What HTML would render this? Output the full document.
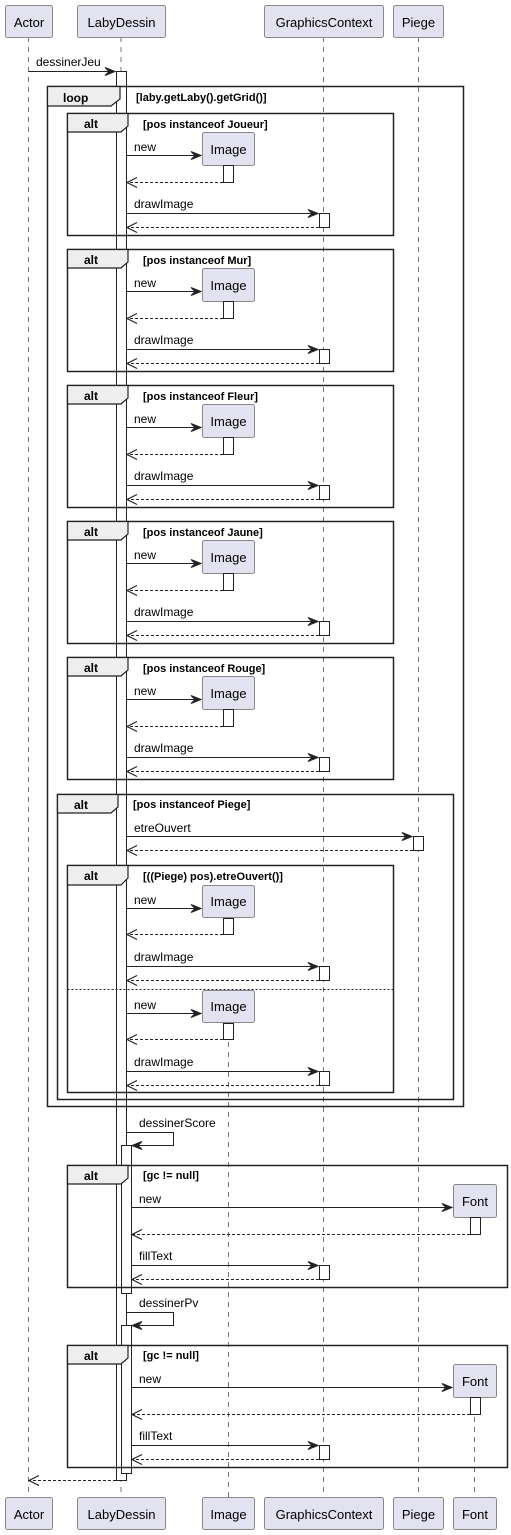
<!DOCTYPE html>
<html><head><meta charset="utf-8"><style>
html,body{margin:0;padding:0;background:#fff}
svg{display:block}
text{font-family:"Liberation Sans",sans-serif}
.p{font-size:13px;fill:#000}
.m{font-size:12px;fill:#000}
.b{font-size:11px;font-weight:bold;fill:#000}
.kw{font-size:12px;font-weight:bold;fill:#000}
</style></head><body>
<svg width="511" height="1535" viewBox="0 0 511 1535" xmlns="http://www.w3.org/2000/svg">
<defs>
<g id="ah"><polygon points="0,0 -10,-4 -6,0 -10,4" fill="#222" stroke="#222" stroke-width="1"/></g>
<g id="rh"><polyline points="10,-5 0,0 10,5" fill="none" stroke="#222" stroke-width="1.2"/></g>
</defs>
<!-- lifelines -->
<g stroke="#555" stroke-width="0.8" stroke-dasharray="5,5">
<line x1="28.5" y1="37" x2="28.5" y2="1497"/>
<line x1="121" y1="37" x2="121" y2="1497"/>
<line x1="228.5" y1="1022" x2="228.5" y2="1497"/>
<line x1="323.5" y1="37" x2="323.5" y2="1497"/>
<line x1="418.5" y1="37" x2="418.5" y2="1497"/>
<line x1="474.5" y1="1397" x2="474.5" y2="1497"/>
</g>
<!-- participants -->
<g fill="#e2e2f0" stroke="#888" stroke-width="1">
<rect x="5.5" y="5.5" width="47" height="32" rx="2"/>
<rect x="77.5" y="5.5" width="88" height="32" rx="2"/>
<rect x="264.5" y="5.5" width="119" height="32" rx="2"/>
<rect x="393.5" y="5.5" width="50" height="32" rx="2"/>
<rect x="5.5" y="1497.5" width="47" height="32" rx="2"/>
<rect x="77.5" y="1497.5" width="88" height="32" rx="2"/>
<rect x="202.5" y="1497.5" width="52" height="32" rx="2"/>
<rect x="264.5" y="1497.5" width="119" height="32" rx="2"/>
<rect x="393.5" y="1497.5" width="50" height="32" rx="2"/>
<rect x="453.5" y="1497.5" width="43" height="32" rx="2"/>
</g>
<g class="p" text-anchor="middle">
<text x="29" y="27">Actor</text><text x="121.5" y="27">LabyDessin</text><text x="324" y="27">GraphicsContext</text><text x="418.5" y="27">Piege</text>
<text x="29" y="1519">Actor</text><text x="121.5" y="1519">LabyDessin</text><text x="228.5" y="1519">Image</text><text x="324" y="1519">GraphicsContext</text><text x="418.5" y="1519">Piege</text><text x="475" y="1519">Font</text>
</g>
<!-- main activation -->
<rect x="116.5" y="71.5" width="10" height="1409" fill="#fff" stroke="#222"/>
<!-- dessinerJeu -->
<text class="m" x="36" y="66">dessinerJeu</text>
<line x1="28.5" y1="71.5" x2="115" y2="71.5" stroke="#222"/>
<use href="#ah" x="115" y="71.5"/>
<!-- loop -->
<rect x="47.5" y="86.5" width="416" height="1020" fill="none" stroke="#222" stroke-width="1.5"/>
<path d="M47.5,86.5 L120,86.5 L120,99 L111,106 L47.5,106 Z" fill="#eee" stroke="#222" stroke-width="1.2"/>
<text class="kw" x="63" y="102">loop</text>
<text class="b" x="136" y="101">[laby.getLaby().getGrid()]</text>

<!-- alt block generator: manual copies -->
<g id="alt0">
<rect x="67.5" y="113.5" width="326" height="122" fill="none" stroke="#222" stroke-width="1.5"/>
<path d="M67.5,113.5 L128,113.5 L128,126 L121,132 L67.5,132 Z" fill="#eee" stroke="#222" stroke-width="1.2"/>
<text class="kw" x="84" y="128">alt</text>
<text class="m" x="134" y="151">new</text>
<line x1="126.5" y1="155.5" x2="201" y2="155.5" stroke="#222"/><use href="#ah" x="201" y="155.5"/>
<rect x="202.5" y="132.5" width="52" height="33" rx="2" fill="#e2e2f0" stroke="#888"/>
<text class="p" x="228.5" y="154" text-anchor="middle">Image</text>
<rect x="223.5" y="165.5" width="10" height="17" fill="#fff" stroke="#222"/>
<line x1="223" y1="182.5" x2="128" y2="182.5" stroke="#222" stroke-dasharray="3,2"/><use href="#rh" x="127" y="182.5"/>
<text class="m" x="134" y="208">drawImage</text>
<line x1="126.5" y1="213.5" x2="318" y2="213.5" stroke="#222"/><use href="#ah" x="318" y="213.5"/>
<rect x="319.5" y="213.5" width="10" height="14" fill="#fff" stroke="#222"/>
<line x1="319" y1="227.5" x2="128" y2="227.5" stroke="#222" stroke-dasharray="3,2"/><use href="#rh" x="127" y="227.5"/>
</g>
<text class="b" x="143" y="128">[pos instanceof Joueur]</text>
<use href="#alt0" y="136"/><text class="b" x="143" y="264">[pos instanceof Mur]</text>
<use href="#alt0" y="272"/><text class="b" x="143" y="400">[pos instanceof Fleur]</text>
<use href="#alt0" y="408"/><text class="b" x="143" y="536">[pos instanceof Jaune]</text>
<use href="#alt0" y="544"/><text class="b" x="143" y="672">[pos instanceof Rouge]</text>

<!-- alt Piege -->
<rect x="57.5" y="794.5" width="396" height="305" fill="none" stroke="#222" stroke-width="1.5"/>
<path d="M57.5,794.5 L118,794.5 L118,807 L111,813 L57.5,813 Z" fill="#eee" stroke="#222" stroke-width="1.2"/>
<text class="kw" x="74" y="809">alt</text>
<text class="b" x="133" y="808">[pos instanceof Piege]</text>
<text class="m" x="134" y="832">etreOuvert</text>
<line x1="126.5" y1="836.5" x2="412" y2="836.5" stroke="#222"/><use href="#ah" x="412" y="836.5"/>
<rect x="413.5" y="836.5" width="10" height="14" fill="#fff" stroke="#222"/>
<line x1="413" y1="850.5" x2="128" y2="850.5" stroke="#222" stroke-dasharray="3,2"/><use href="#rh" x="127" y="850.5"/>
<!-- inner alt -->
<rect x="67.5" y="865.5" width="326" height="227" fill="none" stroke="#222" stroke-width="1.5"/>
<path d="M67.5,865.5 L128,865.5 L128,878 L121,885 L67.5,885 Z" fill="#eee" stroke="#222" stroke-width="1.2"/>
<text class="kw" x="84" y="880">alt</text>
<text class="b" x="143" y="880">[((Piege) pos).etreOuvert()]</text>
<line x1="67.5" y1="989.5" x2="393.5" y2="989.5" stroke="#222" stroke-dasharray="2,2"/>
<g id="inn">
<text class="m" x="134" y="904">new</text>
<line x1="126.5" y1="908.5" x2="201" y2="908.5" stroke="#222"/><use href="#ah" x="201" y="908.5"/>
<rect x="202.5" y="885.5" width="52" height="32" rx="2" fill="#e2e2f0" stroke="#888"/>
<text class="p" x="228.5" y="906" text-anchor="middle">Image</text>
<rect x="223.5" y="918.5" width="10" height="16" fill="#fff" stroke="#222"/>
<line x1="223" y1="934.5" x2="128" y2="934.5" stroke="#222" stroke-dasharray="3,2"/><use href="#rh" x="127" y="934.5"/>
<text class="m" x="134" y="961">drawImage</text>
<line x1="126.5" y1="966.5" x2="318" y2="966.5" stroke="#222"/><use href="#ah" x="318" y="966.5"/>
<rect x="319.5" y="966.5" width="10" height="14" fill="#fff" stroke="#222"/>
<line x1="319" y1="980.5" x2="128" y2="980.5" stroke="#222" stroke-dasharray="3,2"/><use href="#rh" x="127" y="980.5"/>
</g>
<use href="#inn" y="105"/>

<!-- dessinerScore -->
<g id="sc">
<text class="m" x="139" y="1127">dessinerScore</text>
<polyline points="126.5,1132.5 173.5,1132.5 173.5,1145.5 133,1145.5" fill="none" stroke="#222"/>
<use href="#ah" x="132" y="1145.5" transform="rotate(180 132 1145.5)"/>
<rect x="121.5" y="1145.5" width="10" height="148" fill="#fff" stroke="#222"/>
<rect x="67.5" y="1165.5" width="440" height="122" fill="none" stroke="#222" stroke-width="1.5"/>
<path d="M67.5,1165.5 L128,1165.5 L128,1178 L121,1184 L67.5,1184 Z" fill="#eee" stroke="#222" stroke-width="1.2"/>
<text class="kw" x="84" y="1180">alt</text>
<text class="b" x="143" y="1179">[gc != null]</text>
<text class="m" x="139" y="1203">new</text>
<line x1="131.5" y1="1207.5" x2="452" y2="1207.5" stroke="#222"/><use href="#ah" x="452" y="1207.5"/>
<rect x="453.5" y="1184.5" width="43" height="33" rx="2" fill="#e2e2f0" stroke="#888"/>
<text class="p" x="475" y="1206" text-anchor="middle">Font</text>
<rect x="470.5" y="1217.5" width="10" height="17" fill="#fff" stroke="#222"/>
<line x1="470" y1="1234.5" x2="133" y2="1234.5" stroke="#222" stroke-dasharray="3,2"/><use href="#rh" x="132" y="1234.5"/>
<text class="m" x="139" y="1260">fillText</text>
<line x1="131.5" y1="1265.5" x2="318" y2="1265.5" stroke="#222"/><use href="#ah" x="318" y="1265.5"/>
<rect x="319.5" y="1265.5" width="10" height="14" fill="#fff" stroke="#222"/>
<line x1="319" y1="1279.5" x2="133" y2="1279.5" stroke="#222" stroke-dasharray="3,2"/><use href="#rh" x="132" y="1279.5"/>
</g>
<g transform="translate(0,180)">
<text class="m" x="139" y="1127">dessinerPv</text>
<polyline points="126.5,1132.5 173.5,1132.5 173.5,1145.5 133,1145.5" fill="none" stroke="#222"/>
<use href="#ah" x="132" y="1145.5" transform="rotate(180 132 1145.5)"/>
<rect x="121.5" y="1145.5" width="10" height="148" fill="#fff" stroke="#222"/>
<rect x="67.5" y="1165.5" width="440" height="122" fill="none" stroke="#222" stroke-width="1.5"/>
<path d="M67.5,1165.5 L128,1165.5 L128,1178 L121,1184 L67.5,1184 Z" fill="#eee" stroke="#222" stroke-width="1.2"/>
<text class="kw" x="84" y="1180">alt</text>
<text class="b" x="143" y="1179">[gc != null]</text>
<text class="m" x="139" y="1203">new</text>
<line x1="131.5" y1="1207.5" x2="452" y2="1207.5" stroke="#222"/><use href="#ah" x="452" y="1207.5"/>
<rect x="453.5" y="1184.5" width="43" height="33" rx="2" fill="#e2e2f0" stroke="#888"/>
<text class="p" x="475" y="1206" text-anchor="middle">Font</text>
<rect x="470.5" y="1217.5" width="10" height="17" fill="#fff" stroke="#222"/>
<line x1="470" y1="1234.5" x2="133" y2="1234.5" stroke="#222" stroke-dasharray="3,2"/><use href="#rh" x="132" y="1234.5"/>
<text class="m" x="139" y="1260">fillText</text>
<line x1="131.5" y1="1265.5" x2="318" y2="1265.5" stroke="#222"/><use href="#ah" x="318" y="1265.5"/>
<rect x="319.5" y="1265.5" width="10" height="14" fill="#fff" stroke="#222"/>
<line x1="319" y1="1279.5" x2="133" y2="1279.5" stroke="#222" stroke-dasharray="3,2"/><use href="#rh" x="132" y="1279.5"/>
</g>
<!-- final return -->
<line x1="116" y1="1480.5" x2="30" y2="1480.5" stroke="#222" stroke-dasharray="3,2"/><use href="#rh" x="29" y="1480.5"/>
</svg>
</body></html>
